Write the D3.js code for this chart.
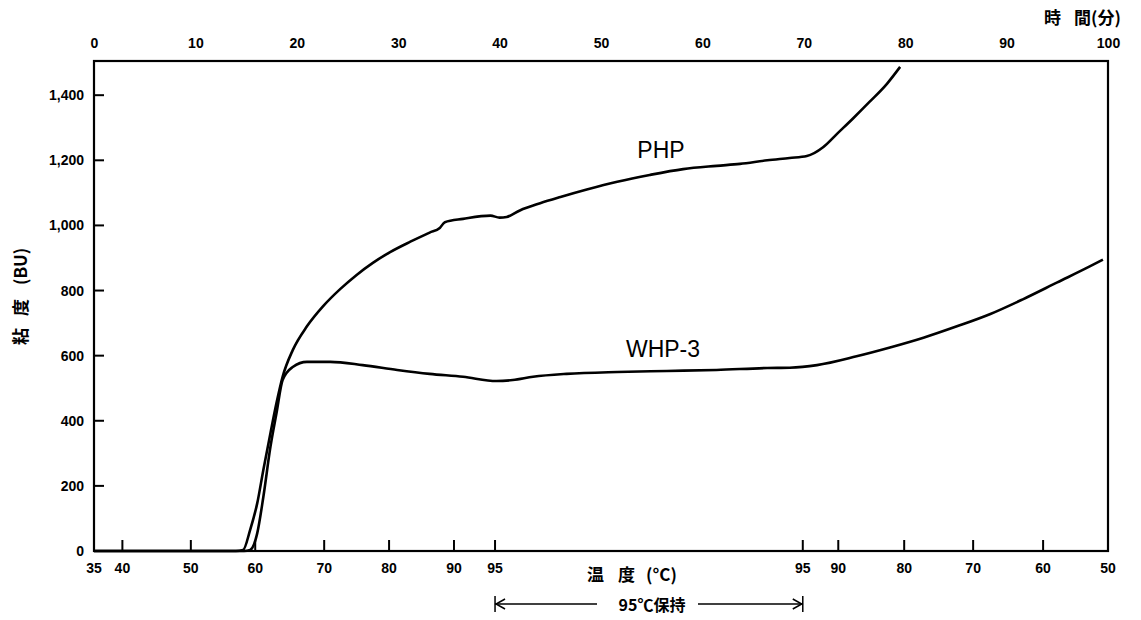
<!DOCTYPE html>
<html>
<head>
<meta charset="utf-8">
<script src="https://cdn.jsdelivr.net/npm/d3@7"></script>
<style>
  html, body { margin: 0; padding: 0; background: #fff; }
  svg { display: block; }
  .num { font-family: "Liberation Sans", Arial, sans-serif; font-weight: bold; font-size: 14px; fill: #000; }
  .jp { font-family: "Noto Sans CJK JP", "Liberation Sans", sans-serif; font-weight: bold; fill: #000; }
  .series-label { font-family: "Liberation Sans", Arial, sans-serif; font-size: 23px; fill: #000; }
</style>
</head>
<body>
<script>
// Viscosity (Brabender units) against elapsed time in minutes
const phpTime = [0, 14.0, 14.7, 15.4, 16.1, 16.7, 17.4, 18.0, 18.6, 19.6, 21.0, 22.6, 24.3, 25.9, 27.5, 29.2, 31.2, 33.1, 34.1, 34.6, 36.4, 39.1, 40.0, 40.7, 42.0, 44.0, 46.0, 48.6, 51.6, 54.8, 58.1, 61.4, 63.7, 66.4, 68.6, 70.3, 71.9, 73.3, 74.9, 76.5, 78.2, 79.5];
const phpVisc = [0, 0, 3, 65, 147, 249, 362, 455, 535, 617, 690, 752, 805, 848, 885, 918, 950, 978, 992, 1010, 1020, 1030, 1024, 1026, 1046, 1068, 1087, 1110, 1134, 1155, 1173, 1183, 1189, 1200, 1207, 1213, 1240, 1282, 1330, 1380, 1435, 1487];

const whpTime = [0, 14.8, 15.4, 16.1, 16.7, 17.4, 18.0, 18.6, 19.6, 21.0, 23.3, 26.5, 29.9, 33.1, 36.4, 39.7, 41.3, 43.3, 46.6, 51.6, 56.5, 61.4, 66.4, 68.6, 71.3, 75.2, 78.5, 81.8, 85.1, 88.4, 91.6, 95.0, 98.2, 99.5];
const whpVisc = [0, 0, 3, 55, 166, 320, 424, 525, 565, 581, 581, 571, 556, 544, 535, 522, 525, 535, 544, 550, 553, 556, 562, 563, 571, 598, 625, 655, 690, 728, 773, 825, 874, 895];

// Axis ticks
const viscTicks = [0, 200, 400, 600, 800, 1000, 1200, 1400];
const timeTicks = [0, 10, 20, 30, 40, 50, 60, 70, 80, 90, 100];
// Temperature programme: heating, 95 °C hold, cooling (label and the minute it falls on)
const tempLabels = [35, 40, 50, 60, 70, 80, 90, 95, 95, 90, 80, 70, 60, 50];
const tempTimes  = [0, 2.8, 9.55, 15.9, 22.7, 29.1, 35.5, 39.55, 69.9, 73.4, 79.9, 86.7, 93.6, 100];
const holdStart = 39.55, holdEnd = 69.9;

const W = 1141, H = 620;
const margin = { left: 94, right: 33, top: 61, bottom: 69 };

const svg = d3.select("body").append("svg").attr("width", W).attr("height", H);

const x = d3.scaleLinear().domain([0, 100]).range([margin.left, W - margin.right]);
const y = d3.scaleLinear().domain([0, 1505]).range([H - margin.bottom, margin.top]);

const x0 = x.range()[0], x1 = x.range()[1], y0 = y.range()[0], y1 = y.range()[1];

// Curves
const line = d3.line().x(d => x(d[0])).y(d => y(d[1])).curve(d3.curveMonotoneX);
svg.append("path").datum(d3.zip(phpTime, phpVisc)).attr("d", line)
  .attr("fill", "none").attr("stroke", "#000").attr("stroke-width", 2.6).attr("stroke-linejoin", "round");
svg.append("path").datum(d3.zip(whpTime, whpVisc)).attr("d", line)
  .attr("fill", "none").attr("stroke", "#000").attr("stroke-width", 2.6).attr("stroke-linejoin", "round");

// Frame
svg.append("rect").attr("x", x0).attr("y", y1).attr("width", x1 - x0).attr("height", y0 - y1)
  .attr("fill", "none").attr("stroke", "#000").attr("stroke-width", 2.2);

// Left axis: inward ticks, bold numbers
const yAxis = svg.append("g").attr("transform", `translate(${x0},0)`)
  .call(d3.axisLeft(y).tickValues(viscTicks).tickSize(0).tickPadding(10).tickFormat(d3.format(",")));
yAxis.select(".domain").remove();
yAxis.selectAll("text").attr("class", "num").attr("font-family", null).attr("font-size", null);
svg.append("g").selectAll("line").data(viscTicks.filter(v => v > 0)).join("line")
  .attr("x1", x0).attr("x2", x0 + 10).attr("y1", d => y(d)).attr("y2", d => y(d))
  .attr("stroke", "#000").attr("stroke-width", 2);

// Top axis: time in minutes
const xTop = svg.append("g").attr("transform", `translate(0,${y1 - 13})`)
  .call(d3.axisTop(x).tickValues(timeTicks).tickSize(0).tickPadding(0));
xTop.select(".domain").remove();
xTop.selectAll("text").attr("class", "num").attr("font-family", null).attr("font-size", null).attr("dy", "0");
const timeTitle = svg.append("text").attr("class", "jp").attr("x", 1044).attr("y", 24).attr("font-size", 17);
timeTitle.append("tspan").text("時");
timeTitle.append("tspan").attr("dx", 13).text("間(分)");

// Bottom axis: temperature programme
const bottom = svg.append("g");
bottom.selectAll("line").data(tempTimes.filter((t, i) => i > 0 && i < tempTimes.length - 1)).join("line")
  .attr("x1", d => x(d)).attr("x2", d => x(d)).attr("y1", y0).attr("y2", y0 - 11)
  .attr("stroke", "#000").attr("stroke-width", 2);
bottom.selectAll("text").data(d3.zip(tempLabels, tempTimes)).join("text")
  .attr("class", "num").attr("x", d => x(d[1])).attr("y", y0 + 22).attr("text-anchor", "middle")
  .text(d => d[0]);
const tempTitle = svg.append("text").attr("class", "jp").attr("x", 587).attr("y", 581).attr("font-size", 17);
tempTitle.append("tspan").text("温");
tempTitle.append("tspan").attr("dx", 14).text("度");
tempTitle.append("tspan").attr("dx", 11).text("(°C)");

// Y axis title
const viscTitle = svg.append("text").attr("class", "jp").attr("transform", "translate(27,345) rotate(-90)")
  .attr("font-size", 17);
viscTitle.append("tspan").text("粘");
viscTitle.append("tspan").attr("dx", 12).text("度");
viscTitle.append("tspan").attr("dx", 14).text("(BU)");

// 95 °C hold span
const ay = 604, hs = x(holdStart), he = x(holdEnd);
const ann = svg.append("g").attr("stroke", "#000").attr("fill", "none").attr("stroke-width", 1.5);
ann.append("line").attr("x1", hs).attr("x2", hs).attr("y1", ay - 8).attr("y2", ay + 8);
ann.append("line").attr("x1", he).attr("x2", he).attr("y1", ay - 8).attr("y2", ay + 8);
ann.append("line").attr("x1", hs).attr("x2", 597).attr("y1", ay).attr("y2", ay);
ann.append("line").attr("x1", 698).attr("x2", he).attr("y1", ay).attr("y2", ay);
ann.append("path").attr("d", `M${hs + 10},${ay - 5} L${hs + 1},${ay} L${hs + 10},${ay + 5}`);
ann.append("path").attr("d", `M${he - 10},${ay - 5} L${he - 1},${ay} L${he - 10},${ay + 5}`);
svg.append("text").attr("class", "jp").attr("x", 652).attr("y", 611).attr("text-anchor", "middle")
  .attr("font-size", 16).text("95℃保持");

// Series labels
svg.append("text").attr("class", "series-label").attr("x", 661).attr("y", 158).attr("text-anchor", "middle").text("PHP");
svg.append("text").attr("class", "series-label").attr("x", 663).attr("y", 357).attr("text-anchor", "middle").text("WHP-3");
</script>
</body>
</html>
